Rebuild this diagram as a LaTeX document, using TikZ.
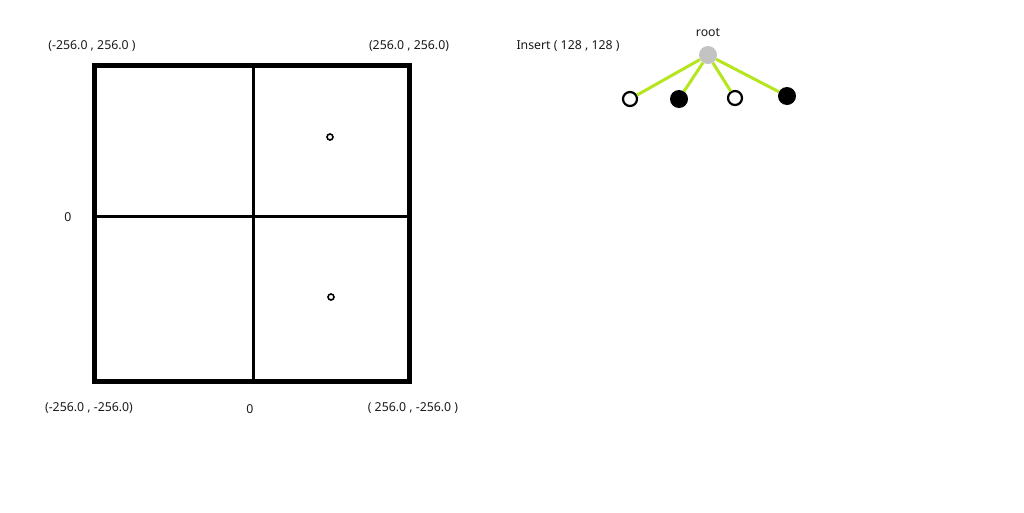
\documentclass[tikz,border=0pt]{standalone}
\usepackage{fontspec}
\usetikzlibrary{positioning}
\setmainfont{Noto Sans}
\definecolor{lime}{HTML}{B5E61D}
\definecolor{rootgray}{HTML}{C3C3C3}
\definecolor{txt}{HTML}{1A1A1A}
\tikzset{
  lbl/.style={font=\fontsize{12.3}{14}\selectfont,text=txt,inner sep=0pt},
  emptyleaf/.style={circle,draw=black,line width=2.2pt,fill=white,minimum size=14pt,inner sep=0pt},
  fullleaf/.style={circle,fill=black,minimum size=18pt,inner sep=0pt},
  link/.style={lime,line width=3pt},
  pt/.style={circle,draw=black,line width=1.6pt,minimum size=6pt,inner sep=0pt}
}
\begin{document}
\begin{tikzpicture}[x=1pt,y=-1pt]
    \useasboundingbox[fill=white] (0,0) rectangle (1024,512);
    % quadrants
    \draw[line width=3pt] (253,65)--(253,381);
    \draw[line width=3pt] (94,216)--(409,216);
    \draw[line width=5pt] (94,65) rectangle (409,381);
    \node[pt] (p1) at (330,137) {};
    \node[pt] (p2) at (331,297) {};
    % corner labels
    \node[lbl] (nw) at (92,46) {(-256.0 , 256.0 )};
    \node[lbl] (ne) at (409,46) {(256.0 , 256.0)};
    \node[lbl] (zl) at (68,217) {0};
    \node[lbl] (sw) at (89,408) {(-256.0 , -256.0)};
    \node[lbl] (zb) at (250,409) {0};
    \node[lbl] (se) at (413,408) {( 256.0 , -256.0 )};
    % tree
    \node[lbl] (ins) at (568,46) {Insert ( 128 , 128 )};
    \node[circle,fill=rootgray,minimum size=18pt,inner sep=0pt] (root) at (708,55) {};
    \node[lbl] (rootlbl) at (708,33) {root};
    \node[emptyleaf] (c1) at (630,99) {};
    \node[fullleaf] (c2) at (679,99) {};
    \node[emptyleaf] (c3) at (735,98) {};
    \node[fullleaf] (c4) at (787,96) {};
    \foreach \c in {c1,c2,c3,c4}
        \draw[link] (root)--(\c);
\end{tikzpicture}
\end{document}
